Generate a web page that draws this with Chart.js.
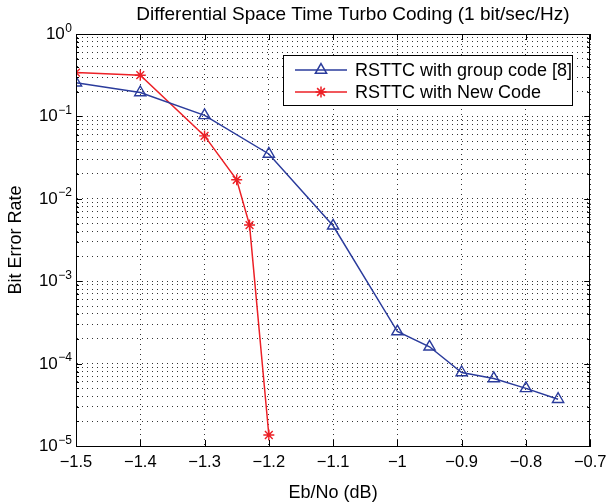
<!DOCTYPE html>
<html>
<head>
<meta charset="utf-8">
<script src="https://cdn.jsdelivr.net/npm/chart.js@4/dist/chart.umd.min.js"></script>
<style>
  html, body { margin: 0; padding: 0; background: #fff; }
  #wrap { width: 613px; height: 504px; }
</style>
</head>
<body>
<div id="wrap"><canvas id="c" width="613" height="504"></canvas></div>
<script>
// data
const groupX = [-1.5, -1.4, -1.3, -1.2, -1.1, -1.0, -0.95, -0.9, -0.85, -0.8, -0.75];
const groupBER = [0.256, 0.195, 0.103, 0.035, 0.0047, 2.45e-4, 1.6e-4, 7.8e-5, 6.6e-5, 5.0e-5, 3.7e-5];
const newX = [-1.5, -1.4, -1.3, -1.25, -1.23, -1.2];
const newBER = [0.34, 0.316, 0.058, 0.017, 0.0048, 1.36e-5];
const xTicks = [-1.5, -1.4, -1.3, -1.2, -1.1, -1.0, -0.9, -0.8, -0.7];
const decades = [-5, -4, -3, -2, -1, 0];
const seriesNames = ['RSTTC with group code [8]', 'RSTTC with New Code'];
const chartTitle = 'Differential Space Time Turbo Coding (1 bit/sec/Hz)';

const FONT = "'Liberation Sans', Arial, Helvetica, sans-serif";
const BLUE = '#2b3c9c';
const RED = '#ec2026';

const toPoints = (xs, ys) => xs.map((v, i) => ({ x: v, y: ys[i] }));

// y ticks: 1..9 x 10^e for every decade
const yTicks = [];
decades.forEach(e => {
  for (let m = 1; m <= 9; m++) {
    if (e === 0 && m > 1) break;
    yTicks.push(m * Math.pow(10, e));
  }
});

const minus = s => s.replace('-', '\u2212');

const frame = {
  id: 'frame',
  afterDraw(chart) {
    const { ctx, chartArea: a, scales: { x, y } } = chart;
    ctx.save();
    ctx.strokeStyle = '#000';
    ctx.lineWidth = 1;
    ctx.beginPath();
    xTicks.forEach(v => {
      const px = Math.round(x.getPixelForValue(v)) + 0.5;
      ctx.moveTo(px, a.bottom); ctx.lineTo(px, a.bottom - 6);
      ctx.moveTo(px, a.top); ctx.lineTo(px, a.top + 6);
    });
    yTicks.forEach(v => {
      const py = Math.round(y.getPixelForValue(v)) + 0.5;
      const major = Math.abs(Math.log10(v) - Math.round(Math.log10(v))) < 1e-9;
      const len = major ? 6 : 3;
      ctx.moveTo(a.left, py); ctx.lineTo(a.left + len, py);
      ctx.moveTo(a.right, py); ctx.lineTo(a.right - len, py);
    });
    ctx.stroke();
    ctx.strokeRect(Math.round(a.left) + 0.5, Math.round(a.top) + 0.5,
      Math.round(a.right - a.left) - 1, Math.round(a.bottom - a.top));

    // title
    ctx.fillStyle = '#000';
    ctx.font = '19px ' + FONT;
    ctx.textAlign = 'center';
    ctx.textBaseline = 'middle';
    ctx.fillText(chartTitle, 353, 15);

    // y tick labels 10^e
    ctx.textBaseline = 'alphabetic';
    decades.forEach(e => {
      const py = y.getPixelForValue(Math.pow(10, e));
      const sup = e === 0 ? '0' : '\u2212' + (-e);
      ctx.font = '12px ' + FONT;
      const ws = ctx.measureText(sup).width;
      const right = a.left - 4;
      ctx.textAlign = 'right';
      ctx.fillText(sup, right, py - 2.5);
      ctx.font = '17px ' + FONT;
      ctx.fillText('10', right - ws - 0.5, py + 5);
    });

    // legend
    const lx = 283, ly = 55, lw = 289, lh = 50;
    ctx.fillStyle = '#fff';
    ctx.fillRect(lx, ly, lw, lh);
    ctx.strokeStyle = '#000';
    ctx.strokeRect(lx + 0.5, ly + 0.5, lw, lh);
    const rows = [
      { name: seriesNames[0], color: BLUE, style: 'tri', cy: ly + 15 },
      { name: seriesNames[1], color: RED, style: 'star', cy: ly + 37 }
    ];
    rows.forEach(r => {
      ctx.strokeStyle = r.color;
      ctx.lineWidth = 1.5;
      ctx.beginPath();
      ctx.moveTo(lx + 12, r.cy); ctx.lineTo(lx + 64, r.cy);
      ctx.stroke();
      const mx = lx + 38;
      ctx.beginPath();
      if (r.style === 'tri') {
        const R = 6.5;
        ctx.moveTo(mx, r.cy - R);
        ctx.lineTo(mx + R * Math.sin(2 * Math.PI / 3), r.cy - R * Math.cos(2 * Math.PI / 3));
        ctx.lineTo(mx + R * Math.sin(4 * Math.PI / 3), r.cy - R * Math.cos(4 * Math.PI / 3));
        ctx.closePath();
      } else {
        const R = 5.5;
        for (let k = 0; k < 4; k++) {
          const ang = k * Math.PI / 4;
          ctx.moveTo(mx - R * Math.cos(ang), r.cy - R * Math.sin(ang));
          ctx.lineTo(mx + R * Math.cos(ang), r.cy + R * Math.sin(ang));
        }
      }
      ctx.stroke();
      ctx.fillStyle = '#000';
      ctx.font = '18px ' + FONT;
      ctx.textAlign = 'left';
      ctx.textBaseline = 'middle';
      ctx.fillText(r.name, lx + 72, r.cy + 1);
    });
    ctx.restore();
  }
};

new Chart(document.getElementById('c'), {
  type: 'line',
  data: {
    datasets: [
      {
        label: seriesNames[0],
        data: toPoints(groupX, groupBER),
        borderColor: BLUE,
        backgroundColor: 'rgba(0,0,0,0)',
        borderWidth: 1.5,
        pointStyle: 'triangle',
        pointRadius: 6.5,
        pointBorderWidth: 1.4,
        pointBackgroundColor: 'rgba(0,0,0,0)',
        pointBorderColor: BLUE,
        tension: 0
      },
      {
        label: seriesNames[1],
        data: toPoints(newX, newBER),
        borderColor: RED,
        backgroundColor: 'rgba(0,0,0,0)',
        borderWidth: 1.5,
        pointStyle: 'star',
        pointRadius: 5.5,
        pointBorderWidth: 1.4,
        pointBackgroundColor: 'rgba(0,0,0,0)',
        pointBorderColor: RED,
        tension: 0
      }
    ]
  },
  options: {
    responsive: false,
    animation: false,
    devicePixelRatio: 1,
    layout: { padding: { left: 0, right: 14, top: 34, bottom: 0 } },
    plugins: {
      legend: { display: false },
      tooltip: { enabled: false },
      title: { display: false }
    },
    scales: {
      x: {
        type: 'linear',
        min: -1.5,
        max: -0.7,
        afterBuildTicks: s => { s.ticks = xTicks.map(v => ({ value: v })); },
        afterFit: s => { s.height = 58; },
        ticks: {
          autoSkip: false,
          color: '#000',
          padding: 6.5,
          font: { family: FONT, size: 16.5 },
          callback: v => minus(String(Number(v.toFixed(2))))
        },
        grid: {
          color: '#333',
          lineWidth: 1,
          drawTicks: false
        },
        border: { display: true, color: '#000', dash: [1, 4] },
        title: {
          display: true,
          text: 'Eb/No (dB)',
          color: '#000',
          font: { family: FONT, size: 18 },
          padding: { top: 3.6, bottom: 0 }
        }
      },
      y: {
        type: 'logarithmic',
        min: 1e-5,
        max: 1,
        afterBuildTicks: s => { s.ticks = yTicks.map(v => ({ value: v })); },
        afterFit: s => { s.width = 76; },
        ticks: { display: false, autoSkip: false },
        grid: {
          color: '#333',
          lineWidth: 1,
          drawTicks: false
        },
        border: { display: true, color: '#000', dash: [1, 4] },
        title: {
          display: true,
          text: 'Bit Error Rate',
          color: '#000',
          font: { family: FONT, size: 18 },
          padding: { top: 5.7, bottom: 0 }
        }
      }
    }
  },
  plugins: [frame]
});
</script>
</body>
</html>
